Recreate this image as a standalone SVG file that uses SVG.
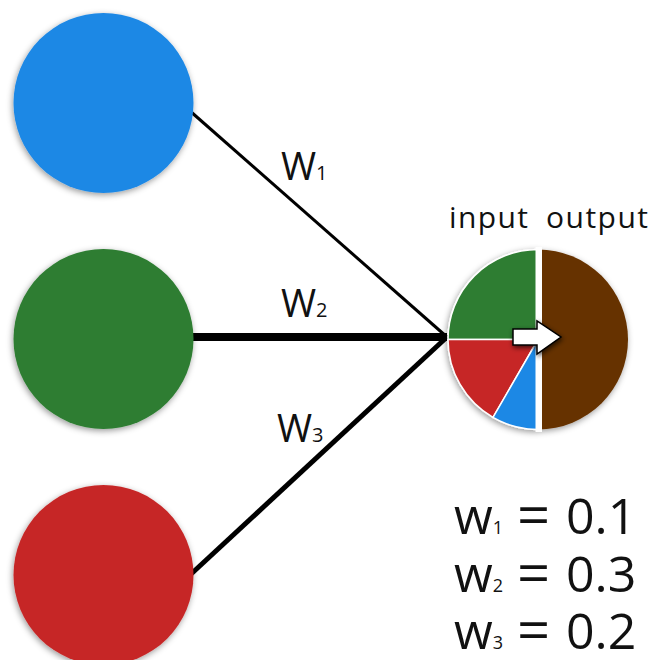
<svg xmlns="http://www.w3.org/2000/svg" width="652" height="660" viewBox="0 0 652 660">
  <defs>
    <filter id="sh" x="-20%" y="-20%" width="140%" height="140%">
      <feDropShadow dx="-1" dy="2" stdDeviation="3" flood-color="#000" flood-opacity="0.4"/>
    </filter>
    <filter id="ash" x="-30%" y="-30%" width="160%" height="160%">
      <feDropShadow dx="1" dy="2" stdDeviation="2.5" flood-color="#000" flood-opacity="0.7"/>
    </filter>
  </defs>
  <style>
    .t { font-family: "Open Sans", "Liberation Sans", sans-serif; fill: #111; }
    .conn { stroke: #000; fill: none; stroke-linecap: butt; }
    .slice { stroke: #fff; stroke-width: 1.5; }
  </style>
  <rect width="652" height="660" fill="#fff"/>

  <g id="connectors">
    <line class="conn" x1="190" y1="111" x2="447" y2="337" stroke-width="3"/>
    <line class="conn" x1="190" y1="337" x2="447" y2="337" stroke-width="8"/>
    <line class="conn" x1="190" y1="575" x2="447" y2="337" stroke-width="5"/>
  </g>

  <g id="node-blue">
    <circle cx="103.5" cy="103" r="90" fill="#1E88E5" filter="url(#sh)"/>
  </g>
  <g id="node-green">
    <circle cx="103.5" cy="339" r="90" fill="#2E7D32" filter="url(#sh)"/>
  </g>
  <g id="node-red">
    <circle cx="103.5" cy="575" r="90" fill="#C62828" filter="url(#sh)"/>
  </g>

  <g id="labels">
    <text class="t" x="281" y="180" font-size="38">W<tspan font-size="20">1</tspan></text>
    <text class="t" x="281" y="317" font-size="38">W<tspan font-size="20">2</tspan></text>
    <text class="t" x="277" y="442" font-size="38">W<tspan font-size="20">3</tspan></text>
  </g>

  <g id="node-output">
    <g filter="url(#sh)">
      <path class="slice" d="M538,339.5 L448,339.5 A90,90 0 0 1 538,249.5 Z" fill="#2E7D32"/>
      <path class="slice" d="M538,339.5 L448,339.5 A90,90 0 0 0 493,417.4 Z" fill="#C62828"/>
      <path class="slice" d="M538,339.5 L493,417.4 A90,90 0 0 0 538,429.5 Z" fill="#1E88E5"/>
      <path d="M538,339.5 L538,249.5 A90,90 0 0 1 538,429.5 Z" fill="#663300"/>
    </g>
    <rect x="535.5" y="247" width="6.5" height="185" fill="#fff"/>
    <polygon points="513,329 537,329 537,321 561,337 537,354 537,345 513,345" fill="#fff" stroke="#000" stroke-width="1.5" stroke-linejoin="miter" filter="url(#ash)"/>
    <text class="t" x="449" y="228" font-size="30" textLength="79" lengthAdjust="spacing">input</text>
    <text class="t" x="546" y="228" font-size="30" textLength="102" lengthAdjust="spacing">output</text>
  </g>

  <g id="legend">
    <text class="t" y="534" font-size="50"><tspan x="454">w</tspan><tspan font-size="18">1</tspan><tspan x="517" font-size="58" dy="2">=</tspan><tspan x="566" dy="-2">0.1</tspan></text>
    <text class="t" y="592" font-size="50"><tspan x="454">w</tspan><tspan font-size="18">2</tspan><tspan x="517" font-size="58" dy="2">=</tspan><tspan x="566" dy="-2">0.3</tspan></text>
    <text class="t" y="649" font-size="50"><tspan x="454">w</tspan><tspan font-size="18">3</tspan><tspan x="517" font-size="58" dy="2">=</tspan><tspan x="566" dy="-2">0.2</tspan></text>
  </g>
</svg>
